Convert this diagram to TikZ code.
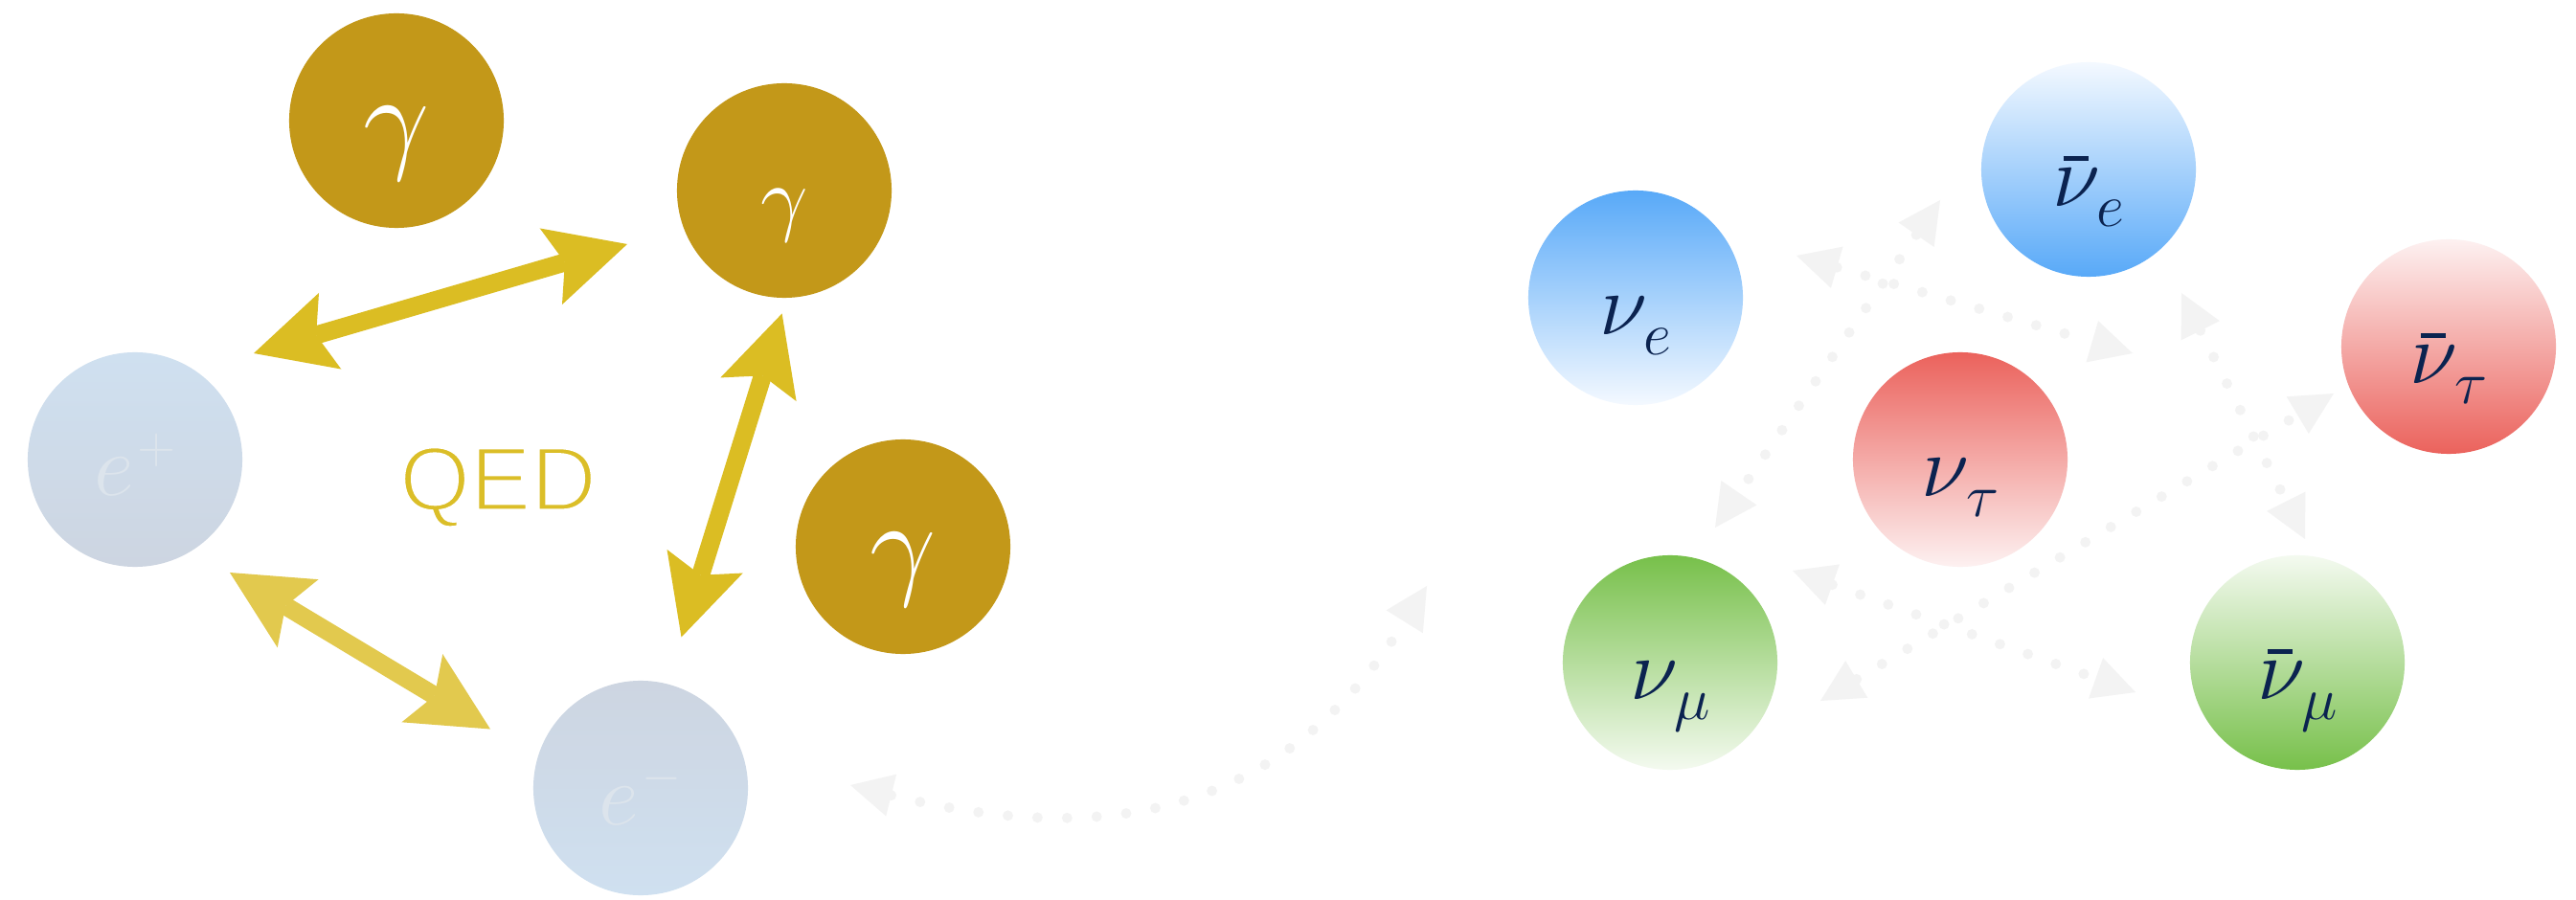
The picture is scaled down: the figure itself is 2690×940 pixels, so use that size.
\RequirePackage{fix-cm}
\documentclass[tikz,border=0pt]{standalone}
\usepackage{fontspec}
\usetikzlibrary{arrows.meta,calc}
\newfontfamily\lss{Liberation Sans}
\definecolor{gold}{HTML}{C39819}
\definecolor{arrgold}{HTML}{DBBD23}
\definecolor{arrgoldl}{HTML}{E2C94E}
\definecolor{qedgold}{HTML}{DBBE28}
\definecolor{eblue}{HTML}{CFE0F0}
\definecolor{egrey}{HTML}{CDD5E1}
\definecolor{elabc}{HTML}{DCE4EC}
\definecolor{navy}{HTML}{0B2350}
\definecolor{nblue}{HTML}{58A9F8}
\definecolor{nbluel}{HTML}{F4F9FF}
\definecolor{nred}{HTML}{EB625C}
\definecolor{nredl}{HTML}{FDF1F1}
\definecolor{ngreen}{HTML}{77C04A}
\definecolor{ngreenl}{HTML}{F4FAF0}
\definecolor{dotgrey}{HTML}{F3F3F3}
\newcommand\mainsz{\fontsize{26pt}{30pt}\selectfont}
\newcommand\subsz{\fontsize{18pt}{20pt}\selectfont}
\newcommand\nusub[1]{{\mainsz$\nu$}\kern-1pt\raisebox{-5.7pt}{\subsz$#1$}}
\newcommand\nubarsub[1]{\makebox[0pt][l]{\hspace{3.2pt}\rule[13.7pt]{7.4pt}{1.25pt}}\nusub{#1}}
\newcommand\elab[1]{{\mainsz$e$}\kern1pt\raisebox{9.9pt}{\fontsize{15pt}{17pt}\selectfont$#1$}}
\newcommand\gam[1]{{\fontsize{#1}{#1}\selectfont$\gamma$}}
\begin{document}
\begin{tikzpicture}[x=0.01cm,y=-0.01cm,
  ball/.style={circle, minimum size=2.24cm, inner sep=0pt, outer sep=0pt, draw=none},
  gball/.style={ball, fill=gold},
  lab/.style={anchor=base, inner sep=0pt, outer sep=0pt},
  garr/.style={line width=5.4pt, >={Stealth[length=23.6pt,width=23.6pt,inset=4.3pt,line width=0pt]}, <->},
  dotarr/.style={draw=dotgrey, line width=3.1pt, line cap=round, dash pattern=on 0pt off 8.8pt,
    >={Triangle[length=12.5pt,width=12.8pt,line width=0pt]}, <->}]
\fill[white] (0,0) rectangle (2690,940);
\path[use as bounding box] (0,0) rectangle (2690,940);

% QED part
\node[gball] (g1) at (414,126) {};
\node[gball] (g2) at (819,199) {};
\node[gball] (g3) at (943,571) {};
\node[ball, top color=eblue, bottom color=egrey] (ep) at (141,480) {};
\node[ball, top color=egrey, bottom color=eblue] (em) at (669,823) {};
\node[lab, text=white] (g1l) at ($(g1)+(0,39)$) {\gam{35pt}};
\node[lab, text=white] (g2l) at ($(g2)+(0,37)$) {\gam{25pt}};
\node[lab, text=white] (g3l) at ($(g3)+(0,39)$) {\gam{35pt}};
\node[lab, text=elabc] (epl) at ($(ep)+(0,38)$) {\elab{+}};
\node[lab, text=elabc] (eml) at ($(em)+(0,38)$) {\elab{-}};
\node[anchor=base, inner sep=0pt, text=qedgold, font=\lss\fontsize{27pt}{30pt}\selectfont] (qed) at (520,533)
  {\special{pdf:literal direct 2 Tr 0.9 w 1 1 1 RG}QED\special{pdf:literal direct 0 Tr}};

\coordinate (a1s) at (265,369);
\coordinate (a1e) at (655,255);
\coordinate (a2s) at (816.6,327.5);
\coordinate (a2e) at (711.5,665.5);
\coordinate (a3s) at (240,598);
\coordinate (a3e) at (512,761.5);
\draw[garr, arrgold] (a1s) -- (a1e);
\draw[garr, arrgold] (a2s) -- (a2e);
\draw[garr, arrgoldl] (a3s) -- (a3e);

% neutrino part
\node[ball, top color=nblue, bottom color=nbluel] (nue) at (1708,311) {};
\node[ball, top color=nbluel, bottom color=nblue] (nueb) at (2181,177) {};
\node[ball, top color=nredl, bottom color=nred] (nutb) at (2557,362) {};
\node[ball, top color=nred, bottom color=nredl] (nut) at (2047,480) {};
\node[ball, top color=ngreen, bottom color=ngreenl] (num) at (1744,692) {};
\node[ball, top color=ngreenl, bottom color=ngreen] (numb) at (2399,692) {};
\node[lab, text=navy] (nuel) at ($(nue)+(0,39)$) {\nusub{e}};
\node[lab, text=navy] (nuebl) at ($(nueb)+(0,39)$) {\nubarsub{e}};
\node[lab, text=navy] (nutbl) at ($(nutb)+(0,39)$) {\nubarsub{\tau}};
\node[lab, text=navy] (nutl) at ($(nut)+(0,39)$) {\nusub{\tau}};
\node[lab, text=navy] (numl) at ($(num)+(0,39)$) {\nusub{\mu}};
\node[lab, text=navy] (numbl) at ($(numb)+(0,39)$) {\nubarsub{\mu}};

\coordinate (c0a) at (888,820);
\coordinate (c0b) at (1490,612);
\coordinate (c1a) at (1876,267);
\coordinate (c1b) at (2227,369);
\coordinate (c2a) at (2026,209);
\coordinate (c2b) at (1791,551);
\coordinate (c3a) at (2278,306);
\coordinate (c3b) at (2407,563);
\coordinate (c4a) at (1901,732);
\coordinate (c4b) at (2437,411);
\coordinate (c5a) at (1872,596);
\coordinate (c5b) at (2230,723);
\draw[dotarr] (c0a) .. controls (1130,880) and (1331,867) .. (c0b);
\draw[dotarr] (c1a) -- (c1b);
\draw[dotarr] (c2a) -- (c2b);
\draw[dotarr] (c3a) -- (c3b);
\draw[dotarr] (c4a) -- (c4b);
\draw[dotarr] (c5a) -- (c5b);
\end{tikzpicture}
\end{document}
